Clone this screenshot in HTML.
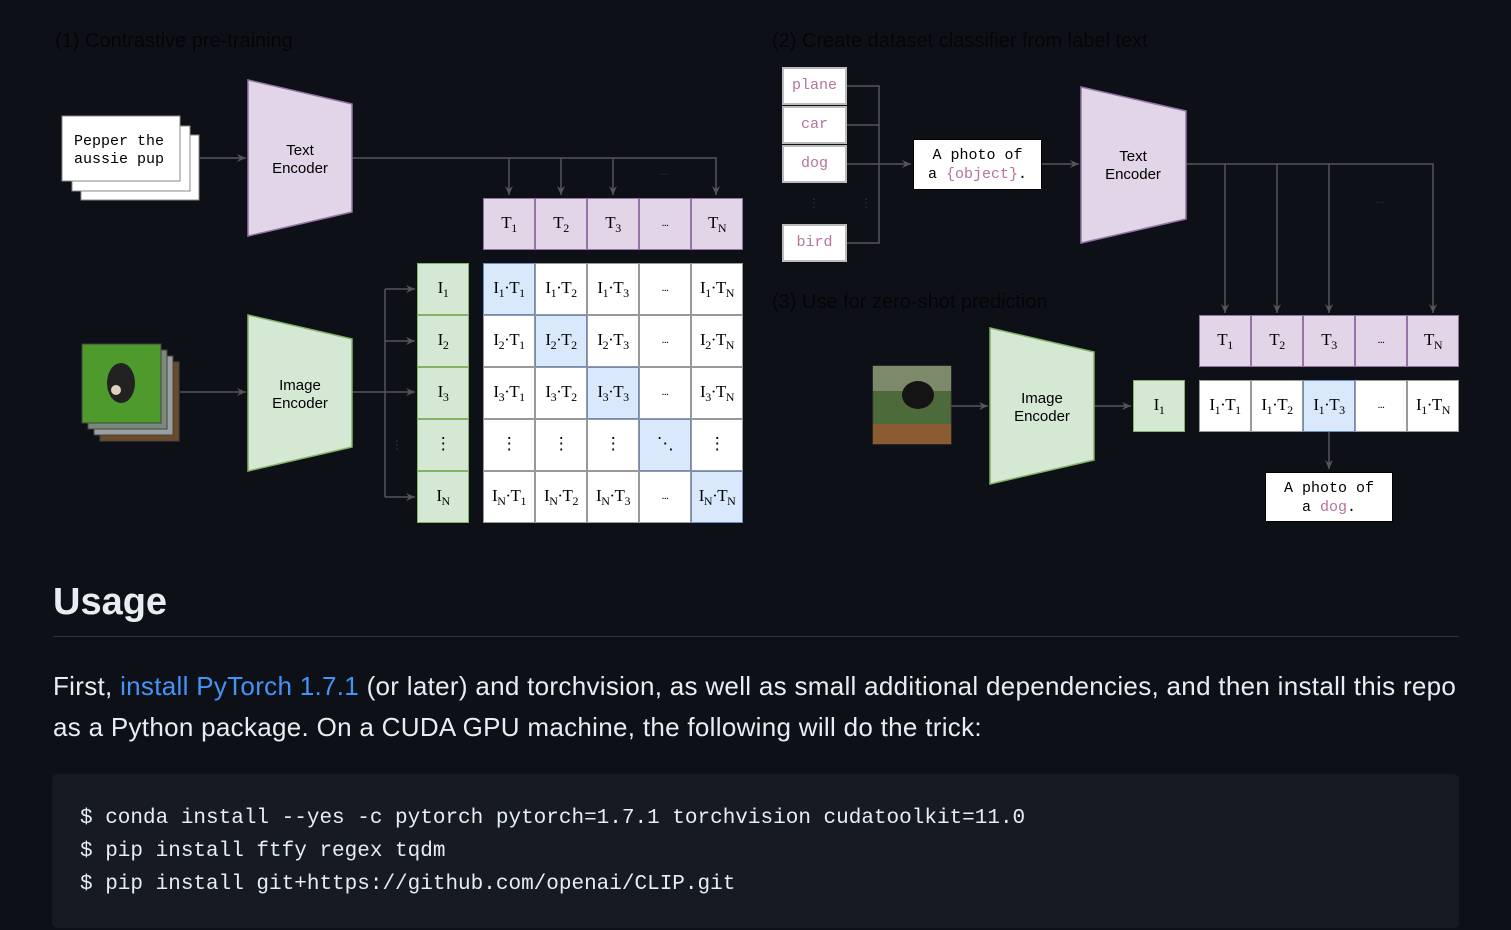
<!DOCTYPE html>
<html><head><meta charset="utf-8"><style>
body{margin:0;width:1511px;height:930px;background:#0d1117;overflow:hidden;position:relative;font-family:"Liberation Sans",sans-serif}
.a{position:absolute}
.c{position:absolute;width:52px;height:52px;box-sizing:border-box;text-align:center;line-height:48px;font:17px/48px "Liberation Serif",serif;color:#000;background:#fff;border:1px solid #999;white-space:nowrap;letter-spacing:-0.5px}
.c sub{font-size:12px;vertical-align:-4px;line-height:0}
.p{background:#e1d5e7;border-color:#9673a6}
.g{background:#d5e8d4;border-color:#82b366}
.b{background:#dae8fc;border-color:#6c8ebf}
.m{font:15px "Liberation Mono",monospace;color:#000}
.lb{position:absolute;left:782px;width:65px;height:38px;box-sizing:border-box;background:#fff;border:2px solid #bbb;text-align:center;line-height:34px;font:15px/34px "Liberation Mono",monospace;color:#b5739d}
</style></head><body>
<svg class="a" style="left:0;top:0" width="1511" height="560">
<defs><marker id="ar" markerWidth="10" markerHeight="10" refX="9" refY="5" orient="auto" markerUnits="userSpaceOnUse"><path d="M0,1 L9,5 L0,9 L3,5z" fill="#555"/></marker></defs>
<g stroke="#555" stroke-width="1.5" fill="none">
<line x1="200" y1="158" x2="246" y2="158" marker-end="url(#ar)"/>
<polyline points="352,158 716,158 716,195" marker-end="url(#ar)"/>
<line x1="509" y1="158" x2="509" y2="195" marker-end="url(#ar)"/>
<line x1="561" y1="158" x2="561" y2="195" marker-end="url(#ar)"/>
<line x1="613" y1="158" x2="613" y2="195" marker-end="url(#ar)"/>
<line x1="180" y1="392" x2="246" y2="392" marker-end="url(#ar)"/>
<line x1="352" y1="392" x2="415" y2="392" marker-end="url(#ar)"/>
<line x1="385" y1="289" x2="385" y2="497"/>
<line x1="385" y1="289" x2="415" y2="289" marker-end="url(#ar)"/>
<line x1="385" y1="341" x2="415" y2="341" marker-end="url(#ar)"/>
<line x1="385" y1="497" x2="415" y2="497" marker-end="url(#ar)"/>
<polyline points="847,86 879,86 879,243 847,243"/>
<line x1="847" y1="125" x2="879" y2="125"/>
<line x1="847" y1="164" x2="911" y2="164" marker-end="url(#ar)"/>
<line x1="1042" y1="164" x2="1079" y2="164" marker-end="url(#ar)"/>
<polyline points="1186,164 1433,164 1433,313" marker-end="url(#ar)"/>
<line x1="1225" y1="164" x2="1225" y2="313" marker-end="url(#ar)"/>
<line x1="1277" y1="164" x2="1277" y2="313" marker-end="url(#ar)"/>
<line x1="1329" y1="164" x2="1329" y2="313" marker-end="url(#ar)"/>
<line x1="951" y1="406" x2="988" y2="406" marker-end="url(#ar)"/>
<line x1="1094" y1="406" x2="1131" y2="406" marker-end="url(#ar)"/>
<line x1="1329" y1="432" x2="1329" y2="469" marker-end="url(#ar)"/>
</g>
<polygon points="248,80 352,104 352,212 248,236" fill="#e1d5e7" stroke="#9673a6" stroke-width="1.5"/>
<polygon points="248,315 352,339 352,447 248,471" fill="#d5e8d4" stroke="#82b366" stroke-width="1.5"/>
<polygon points="1081,87 1186,111 1186,219 1081,243" fill="#e1d5e7" stroke="#9673a6" stroke-width="1.5"/>
<polygon points="990,328 1094,352 1094,460 990,484" fill="#d5e8d4" stroke="#82b366" stroke-width="1.5"/>
<g font-family="Liberation Sans" font-size="20" fill="#050505">
<text x="55" y="47">(1) Contrastive pre-training</text>
<text x="772" y="47">(2) Create dataset classifier from label text</text>
<text x="772" y="308">(3) Use for zero-shot prediction</text>
</g>
<g font-family="Liberation Sans" font-size="15" fill="#000" text-anchor="middle">
<text x="300" y="155">Text</text><text x="300" y="173">Encoder</text>
<text x="300" y="390">Image</text><text x="300" y="408">Encoder</text>
<text x="1133" y="161">Text</text><text x="1133" y="179">Encoder</text>
<text x="1042" y="403">Image</text><text x="1042" y="421">Encoder</text>
</g>
<g fill="#333" font-size="12" font-family="Liberation Serif" text-anchor="middle">
<text x="664" y="175">...</text><text x="1380" y="203">...</text>
<text x="397" y="449">⋮</text><text x="814" y="207">⋮</text><text x="866" y="207">⋮</text>
</g>
<rect x="81" y="135" width="118" height="65" fill="#fff" stroke="#888"/>
<rect x="72" y="126" width="118" height="65" fill="#fff" stroke="#888"/>
<rect x="62" y="116" width="118" height="65" fill="#fff" stroke="#888"/>
<text x="74" y="145" font-family="Liberation Mono" font-size="15">Pepper the</text>
<text x="74" y="163" font-family="Liberation Mono" font-size="15">aussie pup</text>
<rect x="100" y="362" width="79" height="79" fill="#6b4a2a" stroke="#444"/>
<rect x="94" y="356" width="79" height="79" fill="#9aa0a0" stroke="#444"/>
<rect x="88" y="350" width="79" height="79" fill="#7a8a7a" stroke="#444"/>
<rect x="82" y="344" width="79" height="79" fill="#4e9a2c" stroke="#444"/>
<ellipse cx="121" cy="383" rx="14" ry="20" fill="#222"/>
<circle cx="116" cy="390" r="5" fill="#e0d0c0"/>
<rect x="873" y="366" width="78" height="78" fill="#4d6b3a" stroke="#444"/>
<rect x="873" y="366" width="78" height="25" fill="#7d8a6a"/>
<ellipse cx="918" cy="395" rx="16" ry="14" fill="#141414"/>
<rect x="873" y="424" width="78" height="20" fill="#8a5a30"/>
</svg>

<div class="c p" style="left:483px;top:198px">T<sub>1</sub></div>
<div class="c p" style="left:535px;top:198px">T<sub>2</sub></div>
<div class="c p" style="left:587px;top:198px">T<sub>3</sub></div>
<div class="c p" style="left:639px;top:198px;font-size:11px">...</div>
<div class="c p" style="left:691px;top:198px">T<sub>N</sub></div>
<div class="c g" style="left:417px;top:263px">I<sub>1</sub></div>
<div class="c g" style="left:417px;top:315px">I<sub>2</sub></div>
<div class="c g" style="left:417px;top:367px">I<sub>3</sub></div>
<div class="c g" style="left:417px;top:419px">⋮</div>
<div class="c g" style="left:417px;top:471px">I<sub>N</sub></div>
<div class="c b" style="left:483px;top:263px">I<sub>1</sub>·T<sub>1</sub></div>
<div class="c" style="left:535px;top:263px">I<sub>1</sub>·T<sub>2</sub></div>
<div class="c" style="left:587px;top:263px">I<sub>1</sub>·T<sub>3</sub></div>
<div class="c" style="left:639px;top:263px;font-size:11px">...</div>
<div class="c" style="left:691px;top:263px">I<sub>1</sub>·T<sub>N</sub></div>
<div class="c" style="left:483px;top:315px">I<sub>2</sub>·T<sub>1</sub></div>
<div class="c b" style="left:535px;top:315px">I<sub>2</sub>·T<sub>2</sub></div>
<div class="c" style="left:587px;top:315px">I<sub>2</sub>·T<sub>3</sub></div>
<div class="c" style="left:639px;top:315px;font-size:11px">...</div>
<div class="c" style="left:691px;top:315px">I<sub>2</sub>·T<sub>N</sub></div>
<div class="c" style="left:483px;top:367px">I<sub>3</sub>·T<sub>1</sub></div>
<div class="c" style="left:535px;top:367px">I<sub>3</sub>·T<sub>2</sub></div>
<div class="c b" style="left:587px;top:367px">I<sub>3</sub>·T<sub>3</sub></div>
<div class="c" style="left:639px;top:367px;font-size:11px">...</div>
<div class="c" style="left:691px;top:367px">I<sub>3</sub>·T<sub>N</sub></div>
<div class="c" style="left:483px;top:419px">⋮</div>
<div class="c" style="left:535px;top:419px">⋮</div>
<div class="c" style="left:587px;top:419px">⋮</div>
<div class="c b" style="left:639px;top:419px">⋱</div>
<div class="c" style="left:691px;top:419px">⋮</div>
<div class="c" style="left:483px;top:471px">I<sub>N</sub>·T<sub>1</sub></div>
<div class="c" style="left:535px;top:471px">I<sub>N</sub>·T<sub>2</sub></div>
<div class="c" style="left:587px;top:471px">I<sub>N</sub>·T<sub>3</sub></div>
<div class="c" style="left:639px;top:471px;font-size:11px">...</div>
<div class="c b" style="left:691px;top:471px">I<sub>N</sub>·T<sub>N</sub></div>

<div class="lb" style="top:67px">plane</div>
<div class="lb" style="top:106px">car</div>
<div class="lb" style="top:145px">dog</div>
<div class="lb" style="top:224px">bird</div>
<div class="a m" style="left:913px;top:139px;width:129px;height:51px;box-sizing:border-box;background:#fff;border:1px solid #000;text-align:center;line-height:19px;padding-top:6px">A photo of<br>a <span style="color:#b5739d">{object}</span>.</div>

<div class="c p" style="left:1199px;top:315px">T<sub>1</sub></div>
<div class="c p" style="left:1251px;top:315px">T<sub>2</sub></div>
<div class="c p" style="left:1303px;top:315px">T<sub>3</sub></div>
<div class="c p" style="left:1355px;top:315px;font-size:11px">...</div>
<div class="c p" style="left:1407px;top:315px">T<sub>N</sub></div>
<div class="c g" style="left:1133px;top:380px">I<sub>1</sub></div>
<div class="c" style="left:1199px;top:380px">I<sub>1</sub>·T<sub>1</sub></div>
<div class="c" style="left:1251px;top:380px">I<sub>1</sub>·T<sub>2</sub></div>
<div class="c b" style="left:1303px;top:380px">I<sub>1</sub>·T<sub>3</sub></div>
<div class="c" style="left:1355px;top:380px;font-size:11px">...</div>
<div class="c" style="left:1407px;top:380px">I<sub>1</sub>·T<sub>N</sub></div>
<div class="a m" style="left:1265px;top:472px;width:128px;height:50px;box-sizing:border-box;background:#fff;border:1px solid #000;text-align:center;line-height:19px;padding-top:6px">A photo of<br>a <span style="color:#b5739d">dog</span>.</div>

<div class="a" style="left:53px;top:574px;font-size:38px;font-weight:600;color:#e6edf3;line-height:56px">Usage</div>
<div class="a" style="left:53px;top:636px;width:1406px;height:1px;background:#30363d"></div>
<div class="a" style="left:53px;top:666px;width:1440px;font-size:26px;line-height:41px;color:#e6edf3;letter-spacing:0.3px;white-space:nowrap">First, <span style="color:#4493f8">install PyTorch 1.7.1</span> (or later) and torchvision, as well as small additional dependencies, and then install this repo<br>as a Python package. On a CUDA GPU machine, the following will do the trick:</div>
<div class="a" style="left:52px;top:774px;width:1407px;height:154px;background:#161b22;border-radius:6px"></div>
<div class="a" style="left:80px;top:802px;font:21px 'Liberation Mono',monospace;line-height:33px;color:#e6edf3;white-space:pre">$ conda install --yes -c pytorch pytorch=1.7.1 torchvision cudatoolkit=11.0
$ pip install ftfy regex tqdm
$ pip install git+https://github.com/openai/CLIP.git</div>
</body></html>
